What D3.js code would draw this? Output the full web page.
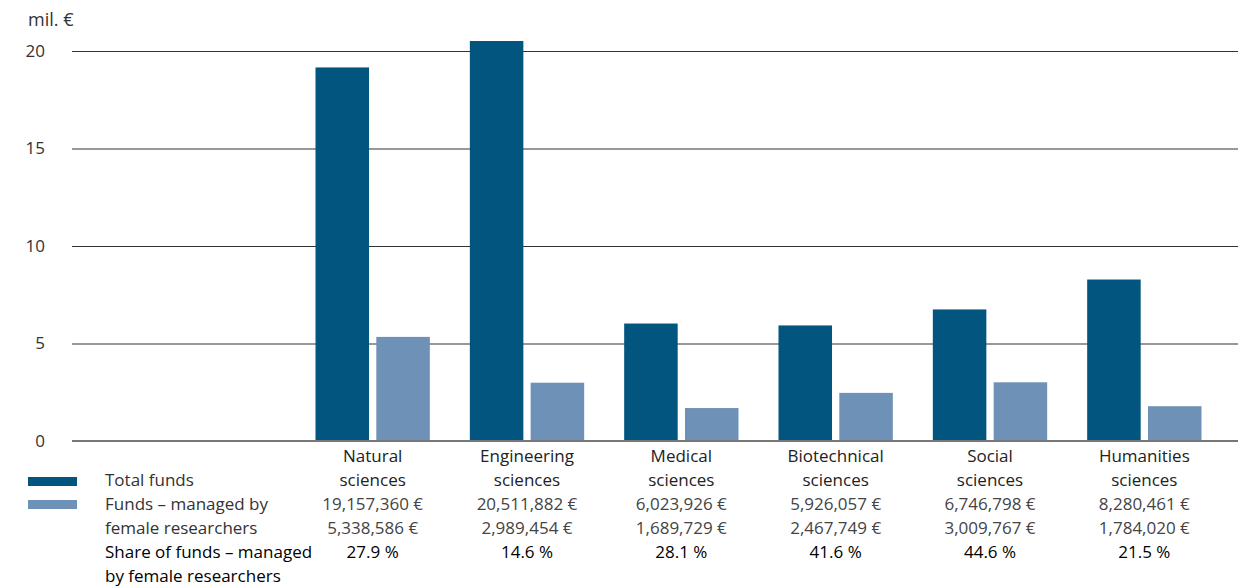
<!DOCTYPE html>
<html>
<head>
<meta charset="utf-8">
<script src="https://cdn.jsdelivr.net/npm/d3@7"></script>
<style>
	body { margin: 0; background: #fff; }
	svg text { font-family: "Open Sans", sans-serif; }
</style>
</head>
<body>
<svg id="chart" width="1249" height="587"></svg>
<script>
// chart data
const categories = [
	['Natural', 'sciences'],
	['Engineering', 'sciences'],
	['Medical', 'sciences'],
	['Biotechnical', 'sciences'],
	['Social', 'sciences'],
	['Humanities', 'sciences']
];
const totalFunds = [19157360, 20511882, 6023926, 5926057, 6746798, 8280461];
const femaleFunds = [5338586, 2989454, 1689729, 2467749, 3009767, 1784020];
const femaleShare = ['27.9 %', '14.6 %', '28.1 %', '41.6 %', '44.6 %', '21.5 %'];
const yTicks = [0, 5, 10, 15, 20];
const legendLabels = ['Total funds', 'Funds – managed by female researchers'];

const colDark = '#02557f';
const colLight = '#6e91b8';

const svg = d3.select('#chart');

const y = d3.scaleLinear().domain([0, 20]).range([441, 51]);
const x = d3.scaleBand()
	.domain(categories.map((c, i) => i))
	.range([295.5, 1221.5])
	.paddingInner(0)
	.paddingOuter(0);
const inner = d3.scaleBand().domain([0, 1]).range([20, x.bandwidth() - 20]).paddingInner(0.12);

// grid + y labels
const yAxis = d3.axisLeft(y)
	.tickValues(yTicks)
	.tickSize(-(1238 - 72))
	.tickPadding(27)
	.tickFormat(d3.format('d'));

const gAxis = svg.append('g').attr('transform', 'translate(72,0)').call(yAxis);
gAxis.select('.domain').remove();
gAxis.selectAll('.tick line').attr('stroke', '#333').attr('stroke-width', 1.1);
gAxis.selectAll('.tick text')
	.attr('fill', '#333')
	.style('font-size', '17px');

svg.append('text')
	.attr('x', 28).attr('y', 26)
	.attr('fill', '#333')
	.style('font-size', '18px')
	.text('mil. €');

// bars
const groups = svg.append('g').selectAll('g')
	.data(categories.map((c, i) => i))
	.join('g')
	.attr('transform', (i) => 'translate(' + x(i) + ',0)');

groups.append('rect')
	.attr('x', inner(0))
	.attr('width', inner.bandwidth())
	.attr('y', (i) => y(totalFunds[i] / 1e6))
	.attr('height', (i) => y(0) - y(totalFunds[i] / 1e6))
	.attr('fill', colDark);

groups.append('rect')
	.attr('x', inner(1))
	.attr('width', inner.bandwidth())
	.attr('y', (i) => y(femaleFunds[i] / 1e6))
	.attr('height', (i) => y(0) - y(femaleFunds[i] / 1e6))
	.attr('fill', colLight);

// baseline
svg.append('line')
	.attr('x1', 72).attr('x2', 1238)
	.attr('y1', y(0)).attr('y2', y(0))
	.attr('stroke', '#777').attr('stroke-width', 2);

// table under chart
const rowY = (r) => 462 + r * 24;
const fmtEur = (v) => d3.format(',')(v) + ' €';

groups.each(function(i) {
	const g = d3.select(this);
	const cx = x.bandwidth() / 2;
	const rows = [
		{ t: categories[i][0], c: '#222', w: 400 },
		{ t: categories[i][1], c: '#222', w: 400 },
		{ t: fmtEur(totalFunds[i]), c: '#444', w: 400 },
		{ t: fmtEur(femaleFunds[i]), c: '#444', w: 400 },
		{ t: femaleShare[i], c: '#000', w: 500 }
	];
	rows.forEach(function(r, k) {
		g.append('text')
			.attr('x', cx).attr('y', rowY(k))
			.attr('text-anchor', 'middle')
			.attr('fill', r.c)
			.style('font-size', '17px')
			.style('font-weight', r.w)
			.text(r.t);
	});
});

// legend / row captions
svg.append('rect').attr('x', 28).attr('y', 477).attr('width', 49).attr('height', 9).attr('fill', colDark);
svg.append('rect').attr('x', 28).attr('y', 500).attr('width', 49).attr('height', 9).attr('fill', colLight);

const captions = [
	{ t: legendLabels[0], r: 1, c: '#333', w: 400 },
	{ t: 'Funds – managed by', r: 2, c: '#333', w: 400 },
	{ t: 'female researchers', r: 3, c: '#333', w: 400 },
	{ t: 'Share of funds – managed', r: 4, c: '#000', w: 500 },
	{ t: 'by female researchers', r: 5, c: '#000', w: 500 }
];
svg.append('g').selectAll('text')
	.data(captions)
	.join('text')
	.attr('x', 105)
	.attr('y', (d) => rowY(d.r))
	.attr('fill', (d) => d.c)
	.style('font-size', '17px')
	.style('font-weight', (d) => d.w)
	.text((d) => d.t);
</script>
</body>
</html>
